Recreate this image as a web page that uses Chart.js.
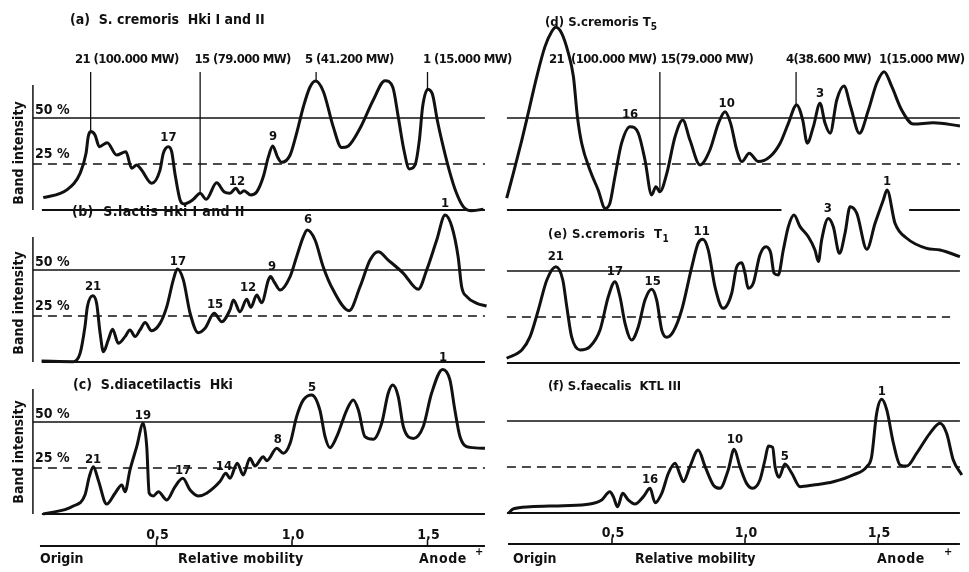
<!DOCTYPE html>
<html>
<head>
<meta charset="utf-8">
<title>Band intensity profiles</title>
<script src="https://cdn.jsdelivr.net/npm/chart.js@4.4.1/dist/chart.umd.min.js"></script>
<style>
  html, body { margin: 0; background: #fff; }
  #page { position: relative; width: 969px; height: 572px; overflow: hidden;
          font-family: "DejaVu Sans Condensed", "DejaVu Sans", sans-serif; font-weight: bold; color: #111; }
  #page canvas { position: absolute; }
  .t { position: absolute; white-space: nowrap; font-size: 14px; line-height: 15px; }
  .s { font-size: 13px; }
  .yl { position: absolute; width: 130px; height: 16px; text-align: center; font-size: 14px; line-height: 16px; transform: rotate(-90deg); }
  sub { font-size: 10px; vertical-align: -4px; }
  .plus { position: absolute; font-size: 11px; }
</style>
</head>
<body>
<div id="page">
  <canvas id="pa"></canvas>
  <canvas id="pb"></canvas>
  <canvas id="pc"></canvas>
  <canvas id="pd"></canvas>
  <canvas id="pe"></canvas>
  <canvas id="pf"></canvas>

  <div class="t" style="left:70px;top:12px">(a)&nbsp; S. cremoris&nbsp; Hki I and II</div>
  <div class="t" style="left:72px;top:204px;letter-spacing:0.4px">(b)&nbsp; S.lactis Hki I and II</div>
  <div class="t" style="left:73px;top:377px">(c)&nbsp; S.diacetilactis&nbsp; Hki</div>
  <div class="t s" style="left:545px;top:14px">(d) S.cremoris T<sub>5</sub></div>
  <div class="t s" style="left:548px;top:226px;letter-spacing:0.3px">(e) S.cremoris&nbsp; T<sub>1</sub></div>
  <div class="t s" style="left:548px;top:378px">(f) S.faecalis&nbsp; KTL III</div>

  <div class="yl" style="left:-47px;top:145px">Band intensity</div>
  <div class="yl" style="left:-47px;top:295px">Band intensity</div>
  <div class="yl" style="left:-47px;top:444px">Band intensity</div>

  <div class="t" style="left:40px;top:551px">Origin</div>
  <div class="t" style="left:178px;top:551px;letter-spacing:0.3px">Relative mobility</div>
  <div class="t" style="left:419px;top:551px;letter-spacing:0.6px">Anode</div>
  <div class="plus" style="left:475px;top:545px">+</div>
  <div class="t" style="left:513px;top:551px">Origin</div>
  <div class="t" style="left:635px;top:551px">Relative mobility</div>
  <div class="t" style="left:877px;top:551px;letter-spacing:0.6px">Anode</div>
  <div class="plus" style="left:944px;top:545px">+</div>
</div>

<script>
const ink = '#111';
const FONT = '"DejaVu Sans Condensed", "DejaVu Sans", sans-serif';

// relative mobility axis
const mobTicks = [0.5, 1.0, 1.5];
const mobTickText = ['0,5', '1,0', '1,5'];
const pctText = [[54.3, '50 %'], [30, '25 %']];

// (a) S. cremoris Hki I and II
const aMob = [0.082,0.169,0.218,0.240,0.248,0.257,0.273,0.289,0.318,0.353,0.387,0.408,0.427,0.445,0.482,0.513,0.525,0.544,0.556,0.568,0.587,0.601,0.636,0.661,0.683,0.722,0.749,0.771,0.793,0.808,0.823,0.848,0.870,0.894,0.913,0.929,0.946,0.962,0.993,1.017,1.042,1.066,1.087,1.116,1.152,1.183,1.208,1.251,1.300,1.343,1.372,1.392,1.413,1.433,1.454,1.470,1.482,1.501,1.519,1.536,1.558,1.580,1.605,1.632,1.659,1.706];
const aInt = [6.7,10.9,19.9,30.8,39.8,42.6,40.8,34.4,36.6,29.9,31.7,22.7,24.5,21.7,14.5,21.7,30.8,34.4,31.7,19.9,5.4,3.3,5.8,9.1,5.8,14.8,9.9,9.1,11.8,9.1,10.5,8.2,9.9,18.1,29.0,34.8,29.0,25.9,29.9,41.7,56.1,66.7,70.1,64.3,45.3,33.9,34.8,44.4,59.8,70.3,66.7,50.7,32.6,22.3,24.5,38.0,56.1,65.6,62.5,48.9,34.4,21.7,9.9,1.8,-0.4,0.4];
const aPeaks = [[0.544, 39.1, '17'], [0.797, 15.2, '12'], [0.930, 39.7, '9']];
const aMW = [[0.199, 81.5, '21 (100.000 MW)'], [0.640, 81.5, '15 (79.000 MW)'], [1.048, 81.5, '5 (41.200 MW)'], [1.483, 81.5, '1 (15.000 MW)']];
const aMarks = [[0.257, 42.6], [0.661, 9.2], [1.089, 70.0], [1.500, 65.0]];

// (b) S. lactis Hki I and II
const bMob = [0.076,0.193,0.218,0.236,0.245,0.265,0.279,0.292,0.304,0.322,0.338,0.359,0.384,0.402,0.421,0.439,0.458,0.482,0.513,0.538,0.562,0.577,0.599,0.624,0.654,0.679,0.713,0.741,0.771,0.784,0.808,0.833,0.848,0.870,0.888,0.913,0.921,0.934,0.956,0.993,1.017,1.042,1.056,1.085,1.115,1.152,1.211,1.251,1.288,1.318,1.355,1.411,1.466,1.497,1.534,1.565,1.590,1.613,1.626,1.645,1.682,1.718];
const bInt = [0.5,0.2,4.7,19.2,30.1,36.0,31.9,15.6,5.6,12.0,17.8,10.2,13.8,17.4,13.8,17.4,21.4,17.0,21.0,30.1,44.6,50.5,44.6,26.5,15.9,18.3,26.5,21.9,28.3,33.7,27.3,34.1,29.7,36.4,32.2,44.6,46.4,43.6,39.1,46.4,57.2,68.1,71.7,66.3,51.8,39.1,27.9,40.9,55.4,59.9,55.4,48.2,39.5,50.0,66.3,79.9,73.5,57.2,40.9,35.5,31.9,30.4];
const bPeaks = [[0.266, 40.8, '21'], [0.579, 54.3, '17'], [0.716, 31.0, '15'], [0.838, 40.2, '12'], [0.926, 51.6, '9'], [1.059, 77.2, '6'], [1.565, 85.9, '1']];

// (c) S. diacetilactis Hki
const cMob = [0.082,0.193,0.236,0.252,0.267,0.285,0.316,0.347,0.372,0.384,0.402,0.427,0.451,0.464,0.473,0.488,0.507,0.538,0.568,0.597,0.624,0.654,0.685,0.734,0.756,0.771,0.798,0.820,0.845,0.863,0.894,0.907,0.944,0.968,0.993,1.017,1.042,1.073,1.103,1.122,1.140,1.165,1.202,1.226,1.245,1.269,1.300,1.331,1.355,1.372,1.392,1.411,1.448,1.484,1.515,1.556,1.583,1.601,1.620,1.657,1.712];
const cInt = [0,4.3,10.3,20.3,25.7,18.5,5.4,11.3,15.8,12.1,23.9,36.6,49.3,36.6,11.3,9.8,12.1,7.6,14.8,19.4,13.0,9.8,11.3,17.6,22.1,19.4,27.6,21.2,30.3,26.1,31.1,29.0,35.7,33.0,38.4,52.9,62.0,64.7,56.5,42.0,36.0,42.0,56.5,62.0,56.5,42.0,40.6,49.3,65.6,70.1,63.8,47.4,41.1,47.4,65.6,78.6,72.8,56.5,42.0,36.2,35.7];
const cPeaks = [[0.266, 29.3, '21'], [0.450, 53.3, '19'], [0.598, 23.4, '17'], [0.749, 25.5, '14'], [0.948, 40.2, '8'], [1.074, 68.5, '5'], [1.557, 84.8, '1']];

// (d) S. cremoris T5
const dMob = [0.104,0.129,0.161,0.185,0.217,0.248,0.273,0.289,0.311,0.336,0.355,0.370,0.386,0.417,0.448,0.474,0.492,0.511,0.536,0.568,0.599,0.624,0.649,0.665,0.680,0.706,0.737,0.766,0.793,0.831,0.868,0.900,0.925,0.946,0.969,0.988,1.016,1.050,1.094,1.132,1.163,1.194,1.217,1.234,1.257,1.282,1.301,1.320,1.345,1.372,1.397,1.430,1.464,1.495,1.523,1.552,1.589,1.633,1.708,1.808];
const dInt = [6.4,19.9,38.0,52.6,72.4,88.8,96.9,99.3,96.0,85.2,72.4,50.7,36.3,21.7,10.9,0.9,3.6,18.1,36.3,45.3,41.7,27.2,8.2,12.7,9.9,19.9,39.8,48.9,38.0,24.5,32.6,47.1,53.4,47.1,32.6,26.3,30.8,26.3,29.0,36.3,47.1,57.1,48.9,36.3,45.3,58.0,47.1,41.7,59.8,67.4,56.1,41.7,54.3,68.9,75.2,67.0,54.3,46.7,47.4,45.7];
const dPeaks = [[0.568, 51.6, '16'], [0.931, 58.0, '10'], [1.282, 63.4, '3']];
const dMW = [[0.263, 81.5, '21'], [0.346, 81.5, '(100.000 MW)'], [0.682, 81.5, '15(79.000 MW)'], [1.154, 81.5, '4(38.600 MW)'], [1.504, 81.5, '1(15.000 MW)']];
const dMarks = [[0.680, 10.3], [1.192, 57.0]];

// (e) S. cremoris T1
const eMob = [0.104,0.161,0.192,0.223,0.255,0.289,0.315,0.330,0.348,0.380,0.417,0.455,0.486,0.511,0.530,0.549,0.574,0.599,0.624,0.649,0.668,0.687,0.706,0.730,0.762,0.800,0.824,0.841,0.862,0.887,0.918,0.950,0.969,0.988,1.000,1.012,1.031,1.056,1.079,1.097,1.109,1.125,1.144,1.163,1.184,1.207,1.238,1.263,1.276,1.288,1.313,1.332,1.355,1.376,1.395,1.420,1.458,1.489,1.520,1.534,1.564,1.608,1.683,1.733,1.808];
const eInt = [2.6,7.1,14.3,28.8,45.1,52.3,45.1,30.6,14.3,7.1,8.9,17.9,36.0,44.2,36.0,21.6,12.5,19.7,34.2,40.1,34.2,17.9,14.0,17.0,28.8,52.3,65.1,67.2,61.4,41.5,29.7,37.9,52.3,54.5,48.8,40.6,43.3,58.7,63.2,59.6,48.8,47.8,61.4,74.1,80.4,74.1,68.6,61.4,55.1,66.8,78.6,74.1,59.6,70.5,84.9,81.4,61.8,75.9,88.6,94.0,75.9,67.8,62.3,61.4,57.8];
const ePeaks = [[0.289, 57.8, '21'], [0.511, 49.6, '17'], [0.653, 44.2, '15'], [0.837, 71.4, '11'], [1.311, 84.1, '3'], [1.534, 98.4, '1']];

// (f) S. faecalis KTL III
const fMob = [0.110,0.129,0.192,0.317,0.417,0.461,0.492,0.505,0.521,0.540,0.561,0.586,0.618,0.643,0.662,0.687,0.712,0.737,0.756,0.768,0.793,0.824,0.850,0.881,0.906,0.937,0.959,0.981,1.006,1.029,1.056,1.075,1.088,1.104,1.113,1.128,1.150,1.176,1.207,1.257,1.332,1.407,1.458,1.476,1.495,1.514,1.533,1.558,1.583,1.608,1.645,1.695,1.733,1.758,1.783,1.815];
const fInt = [-0.2,2.2,3.4,4.0,4.9,7.1,11.6,8.9,3.4,10.7,7.1,4.9,8.9,13.4,5.6,10.7,21.6,27.0,20.7,17.0,25.2,34.2,25.2,15.2,13.4,23.4,34.6,25.2,16.1,13.4,17.9,28.8,36.4,35.7,25.2,19.4,26.6,21.6,14.3,15.2,17.0,20.7,25.2,30.6,54.2,61.8,56.0,37.9,26.1,25.5,32.4,43.3,48.8,43.3,28.8,20.7];
const fPeaks = [[0.643, 17.9, '16'], [0.962, 39.7, '10'], [1.150, 30.6, '5'], [1.514, 65.9, '1']];

// page geometry: where mobility 0 sits and px per mobility unit in each column
const cols = {
  L: { left: 0, width: 520, origin: 21, scale: 271, ref: [0.044, 1.712], base: [0.077, 1.712], axis: [0.070, 1.712] },
  R: { left: 480, width: 489, origin: 479, scale: 266, ref: [0.105, 1.808], base: [0.105, 1.808], axis: [0.109, 1.808] }
};
const PX_PER_PCT = 1.84;

const panels = [
  { id: 'pa', col: 'L', y0: 210, mob: aMob, val: aInt, peaks: aPeaks, mw: aMW, marks: aMarks, yAxis: true },
  { id: 'pb', col: 'L', y0: 362, mob: bMob, val: bInt, peaks: bPeaks, yAxis: true },
  { id: 'pc', col: 'L', y0: 514, mob: cMob, val: cInt, peaks: cPeaks, yAxis: true, bottom: -17.4 },
  { id: 'pd', col: 'R', y0: 210, mob: dMob, val: dInt, peaks: dPeaks, mw: dMW, marks: dMarks, gap: [1.137, 1.617] },
  { id: 'pe', col: 'R', y0: 363, mob: eMob, val: eInt, peaks: ePeaks, dashEnd: 1.771 },
  { id: 'pf', col: 'R', y0: 513, mob: fMob, val: fInt, peaks: fPeaks, bottom: -16.8 }
];

const fonts = {
  peak: 'bold 13px ' + FONT,
  mw: 'bold 13px ' + FONT,
  pct: 'bold 14px ' + FONT,
  tick: 'bold 14px ' + FONT
};

const annot = {
  id: 'annot',
  afterDatasetsDraw(chart, args, o) {
    const { ctx } = chart;
    const x = chart.scales.x, y = chart.scales.y;
    ctx.save();
    ctx.fillStyle = ink;
    ctx.strokeStyle = ink;
    ctx.textBaseline = 'middle';
    (o.texts || []).forEach(([vx, vy, s, kind]) => {
      ctx.font = fonts[kind];
      ctx.letterSpacing = kind === 'mw' ? '-0.6px' : '0px';
      ctx.textAlign = kind === 'peak' ? 'center' : 'left';
      ctx.fillText(s, x.getPixelForValue(vx), y.getPixelForValue(vy));
    });
    ctx.letterSpacing = '0px';
    if (o.bottom !== undefined) {
      const py = y.getPixelForValue(o.bottom);
      ctx.lineWidth = 1.6;
      ctx.textAlign = 'center';
      ctx.font = fonts.tick;
      mobTicks.forEach((t, i) => {
        const px = x.getPixelForValue(t);
        ctx.beginPath(); ctx.moveTo(px, py); ctx.lineTo(px, py - 5); ctx.stroke();
        ctx.fillText(mobTickText[i], px + 1, py - 11);
      });
    }
    ctx.restore();
  }
};

const line = (pts, w, dash) => ({
  data: pts, borderColor: ink, borderWidth: w, borderDash: dash || [],
  pointRadius: 0, tension: 0, fill: false
});

panels.forEach(p => {
  const col = cols[p.col];
  const canvas = document.getElementById(p.id);
  const top = Math.round(p.y0 - 112 * PX_PER_PCT);
  const height = Math.round(136 * PX_PER_PCT);
  canvas.width = col.width;
  canvas.height = height;
  canvas.style.left = col.left + 'px';
  canvas.style.top = top + 'px';
  const yMax = (p.y0 - top) / PX_PER_PCT;
  const yMin = yMax - height / PX_PER_PCT;
  const xMin = (col.left - col.origin) / col.scale;
  const xMax = (col.left + col.width - col.origin) / col.scale;

  const sets = [];
  // 50 % and 25 % reference levels
  sets.push(line([{ x: col.ref[0], y: 50 }, { x: col.ref[1], y: 50 }], 1.4));
  sets.push(line([{ x: col.ref[0], y: 25 }, { x: p.dashEnd || col.ref[1], y: 25 }], 1.6, [9, 6]));
  // base line (0 %)
  const base = p.gap
    ? [{ x: col.base[0], y: 0 }, { x: p.gap[0], y: 0 }, { x: p.gap[0], y: null }, { x: p.gap[1], y: 0 }, { x: col.base[1], y: 0 }]
    : [{ x: col.base[0], y: 0 }, { x: col.base[1], y: 0 }];
  sets.push(line(base, 2.2));
  if (p.yAxis) sets.push(line([{ x: 0.044, y: 0 }, { x: 0.044, y: 68 }], 1.5));
  if (p.bottom !== undefined) sets.push(line([{ x: col.axis[0], y: p.bottom }, { x: col.axis[1], y: p.bottom }], 2));
  (p.marks || []).forEach(([mx, my]) => sets.push(line([{ x: mx, y: my }, { x: mx, y: 75 }], 1.3)));
  // densitometer trace
  sets.push({
    data: p.mob.map((m, i) => ({ x: m, y: p.val[i] })),
    borderColor: ink, borderWidth: 3, pointRadius: 0,
    cubicInterpolationMode: 'monotone', fill: false
  });

  const texts = p.peaks.map(([px, py, s]) => [px, py, s, 'peak']);
  (p.mw || []).forEach(([mx, my, s]) => texts.push([mx, my, s, 'mw']));
  if (p.yAxis) pctText.forEach(([v, s]) => texts.push([0.052, v, s, 'pct']));

  new Chart(canvas, {
    type: 'line',
    data: { datasets: sets },
    options: {
      responsive: false,
      animation: false,
      events: [],
      layout: { padding: 0 },
      scales: {
        x: { type: 'linear', min: xMin, max: xMax, display: false },
        y: { type: 'linear', min: yMin, max: yMax, display: false }
      },
      plugins: {
        legend: { display: false },
        tooltip: { enabled: false },
        annot: { texts, bottom: p.bottom }
      }
    },
    plugins: [annot]
  });
});
</script>
</body>
</html>
